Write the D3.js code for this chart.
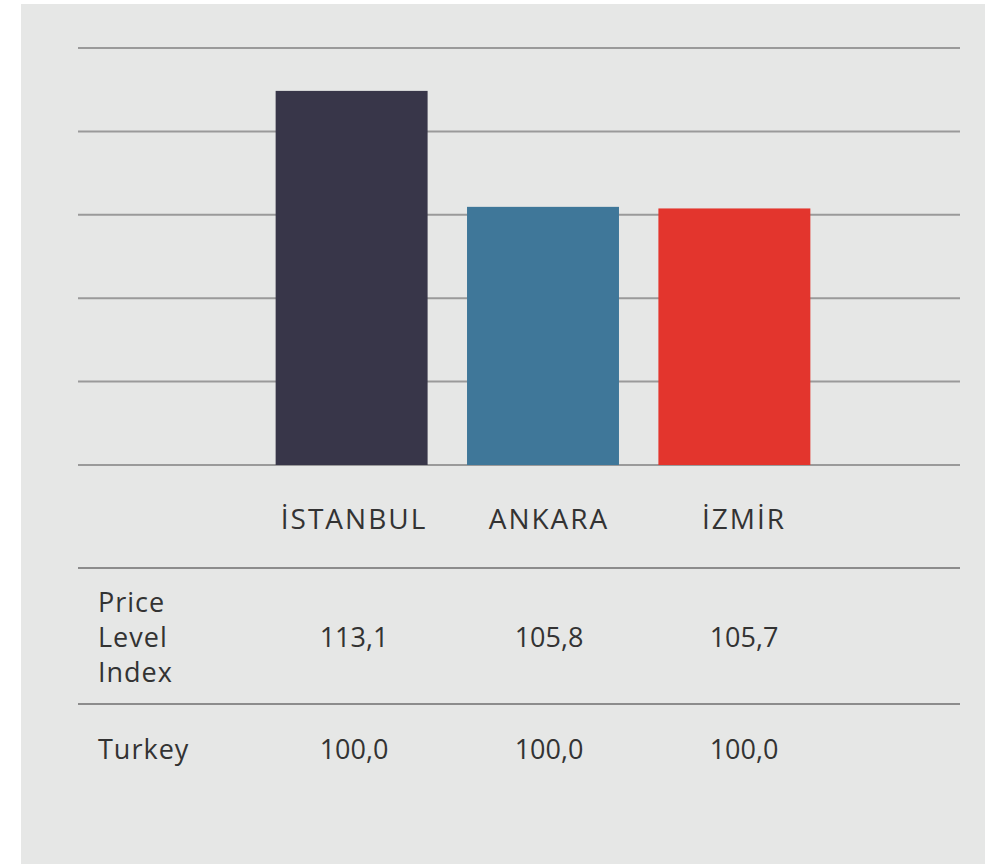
<!DOCTYPE html>
<html>
<head>
<meta charset="utf-8">
<script src="https://cdn.jsdelivr.net/npm/d3@7"></script>
<style>
  html, body { margin: 0; padding: 0; background: #ffffff; }
  svg { display: block; }
  text { font-family: "Open Sans", "Noto Sans", sans-serif; fill: #333333; }
</style>
</head>
<body>
<svg id="chart" width="992" height="864"></svg>
<script>
// ---- data ----
const cities = ["İSTANBUL", "ANKARA", "İZMİR"];
const priceLevelIndex = [113.1, 105.8, 105.7];
const turkeyIndex = [100.0, 100.0, 100.0];
const barColors = ["#383649", "#3f7799", "#e3352d"];
const rowLabels = [["Price", "Level", "Index"], ["Turkey"]];
const yDomain = [89.55, 115.8];
const gridCount = 5;

const fmt = v => v.toFixed(1).replace(".", ",");

const svg = d3.select("#chart");

// panel
svg.append("rect").attr("x", 21).attr("y", 4).attr("width", 964).attr("height", 860)
  .attr("fill", "#e6e7e6");

const y = d3.scaleLinear().domain(yDomain).range([465, 48]);
const x = d3.scaleBand().domain(cities).range([256.5, 829.5]).paddingInner(0.206).paddingOuter(0.1);
const col = d3.scalePoint().domain(cities).range([354, 744]);

// gridlines
const gridVals = d3.range(gridCount + 1).map(i => yDomain[0] + i * (yDomain[1] - yDomain[0]) / gridCount);
svg.append("g").selectAll("line").data(gridVals).join("line")
  .attr("x1", 78).attr("x2", 960)
  .attr("y1", d => y(d)).attr("y2", d => y(d))
  .attr("stroke", "#9a9a9a").attr("stroke-width", 2);

// bars
svg.append("g").selectAll("rect").data(cities).join("rect")
  .attr("x", d => x(d))
  .attr("width", x.bandwidth())
  .attr("y", (d, i) => y(priceLevelIndex[i]))
  .attr("height", (d, i) => y(yDomain[0]) - y(priceLevelIndex[i]))
  .attr("fill", (d, i) => barColors[i]);

// category labels
svg.append("g").selectAll("text").data(cities).join("text")
  .attr("x", d => col(d)).attr("y", 529)
  .attr("text-anchor", "middle")
  .attr("font-size", 28)
  .attr("letter-spacing", 2)
  .text(d => d);

// table lines
svg.append("g").selectAll("line").data([568, 704]).join("line")
  .attr("x1", 78).attr("x2", 960)
  .attr("y1", d => d).attr("y2", d => d)
  .attr("stroke", "#8c8c8c").attr("stroke-width", 2);

// row labels
const lbl = svg.append("text").attr("x", 98).attr("font-size", 27).attr("letter-spacing", 1);
rowLabels[0].forEach((t, i) => {
  lbl.append("tspan").attr("x", 98).attr("y", 612 + i * 35).text(t);
});
svg.append("text").attr("x", 98).attr("y", 759).attr("font-size", 27).attr("letter-spacing", 1)
  .text(rowLabels[1][0]);

// values
svg.append("g").selectAll("text").data(cities).join("text")
  .attr("x", d => col(d)).attr("y", 647)
  .attr("text-anchor", "middle").attr("font-size", 27)
  .text((d, i) => fmt(priceLevelIndex[i]));
svg.append("g").selectAll("text").data(cities).join("text")
  .attr("x", d => col(d)).attr("y", 759)
  .attr("text-anchor", "middle").attr("font-size", 27)
  .text((d, i) => fmt(turkeyIndex[i]));
</script>
</body>
</html>
